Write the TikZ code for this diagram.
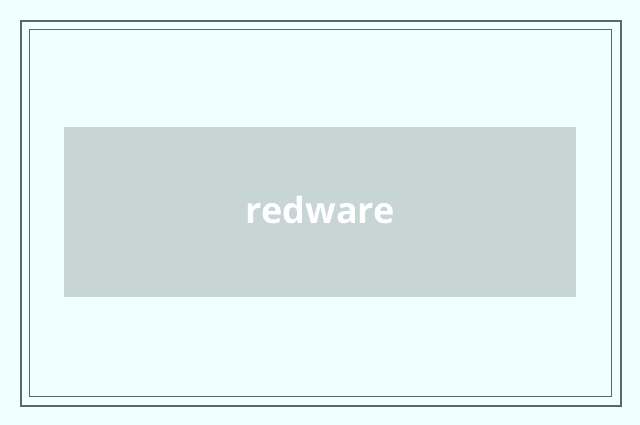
\documentclass[tikz,border=0pt]{standalone}
\usepackage{fontspec}
\setmainfont{Open Sans}
\definecolor{bgc}{HTML}{F0FFFF}
\definecolor{framec}{HTML}{596868}
\definecolor{boxc}{HTML}{C8D5D5}
\begin{document}
\begin{tikzpicture}[x=0.75pt,y=-0.75pt,
  outerframe/.style={draw=framec,line width=1.5pt},
  innerframe/.style={draw=framec,line width=0.75pt},
  label/.style={text=white,font=\bfseries\fontsize{27}{30}\selectfont,inner sep=0pt}]
\fill[bgc] (0,0) rectangle (640,425);
\useasboundingbox (0,0) rectangle (640,425);
\draw[outerframe] (21,21) rectangle (621,405.5);
\draw[innerframe] (29.5,29.5) rectangle (611.5,396.5);
\node[fill=boxc,minimum width=512*0.75pt,minimum height=170*0.75pt,inner sep=0pt,anchor=north west] (box) at (64,127) {};
\node[label] (txt) at ([yshift=1.5pt]box.center) {redware};
\end{tikzpicture}
\end{document}
